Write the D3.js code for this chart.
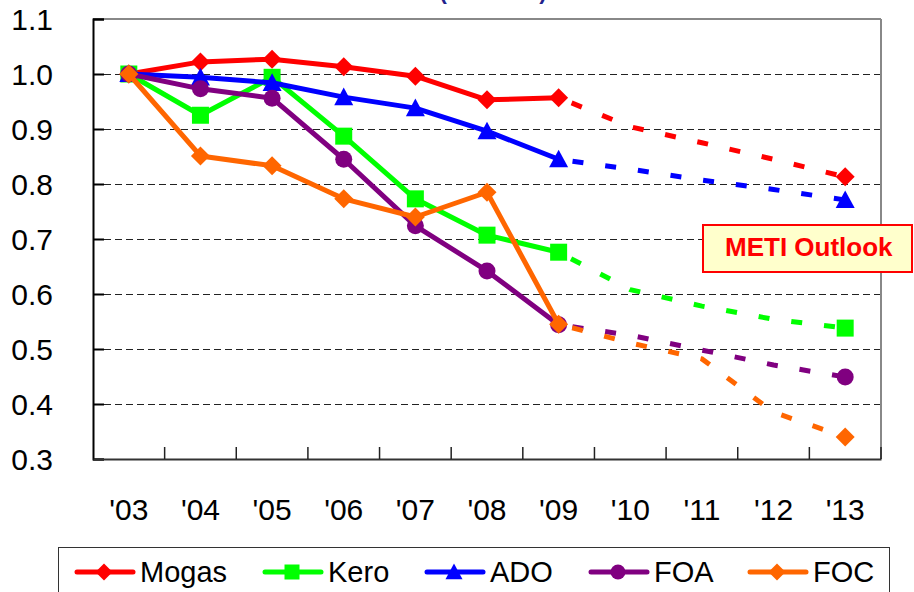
<!DOCTYPE html>
<html>
<head>
<meta charset="utf-8">
<script src="https://cdn.jsdelivr.net/npm/d3@7"></script>
<style>
  html, body { margin: 0; padding: 0; background: #fff; }
  svg { display: block; font-family: "Liberation Sans", Arial, sans-serif; }
</style>
</head>
<body>
<svg id="chart" width="914" height="592"></svg>
<script>
// ---- data ----
const categories = ["'03", "'04", "'05", "'06", "'07", "'08", "'09", "'10", "'11", "'12", "'13"];
const actualYears = ["'03", "'04", "'05", "'06", "'07", "'08", "'09"];
const outlookYears = ["'09", "'10", "'11", "'12", "'13"];
const seriesNames = ["Mogas", "Kero", "ADO", "FOA", "FOC"];
const mogasActual = [1.0, 1.022, 1.027, 1.013, 0.996, 0.953, 0.957];
const keroActual  = [1.0, 0.925, 0.994, 0.887, 0.773, 0.707, 0.676];
const adoActual   = [1.0, 0.994, 0.984, 0.958, 0.938, 0.896, 0.845];
const foaActual   = [1.0, 0.973, 0.956, 0.845, 0.724, 0.642, 0.544];
const focActual   = [1.0, 0.851, 0.833, 0.773, 0.740, 0.785, 0.545];
const mogasOutlook = [0.957, 0.904, 0.875, 0.845, 0.813];
const keroOutlook  = [0.676, 0.608, 0.578, 0.554, 0.538];
const adoOutlook   = [0.845, 0.827, 0.807, 0.790, 0.771];
const foaOutlook   = [0.544, 0.525, 0.498, 0.471, 0.449];
const focOutlook   = [0.545, 0.511, 0.482, 0.385, 0.340];
const yTicks = [0.3, 0.4, 0.5, 0.6, 0.7, 0.8, 0.9, 1.0, 1.1];
const titleText = "(2003=1.0)";
const noteText = "METI Outlook";

// ---- styles ----
const colors = ["#FF0000", "#00FF00", "#0000FF", "#800080", "#FF6600"];
const shapes = ["diamond", "square", "triangle", "circle", "diamond"];
const actual = [mogasActual, keroActual, adoActual, foaActual, focActual];
const outlook = [mogasOutlook, keroOutlook, adoOutlook, foaOutlook, focOutlook];

const svg = d3.select("#chart");
const L = 93, R = 881, T = 19, B = 459;

const x = d3.scaleBand().domain(categories).range([L, R]).padding(0);
const cx = c => x(c) + x.bandwidth() / 2;
const y = d3.scaleLinear().domain([0.3, 1.1]).range([B, T]);

function markerPath(shape, s) {
  if (shape === "diamond") return `M0,${-s}L${s},0L0,${s}L${-s},0Z`;
  if (shape === "square") return `M${-s},${-s}H${s}V${s}H${-s}Z`;
  if (shape === "triangle") return `M0,${-s}L${s},${s*0.85}L${-s},${s*0.85}Z`;
  return d3.arc()({innerRadius: 0, outerRadius: s, startAngle: 0, endAngle: 2 * Math.PI});
}
const markerSize = {diamond: 9.5, square: 8.5, triangle: 9.5, circle: 8.5};

// title (mostly above the visible area, as in the reference)
svg.append("text").attr("x", 493).attr("y", -1.5).attr("text-anchor", "middle")
  .attr("font-size", 22).attr("font-weight", "bold").attr("fill", "#22228C").text(titleText);

// gridlines
svg.append("g").selectAll("line").data(yTicks.filter(v => v > 0.35 && v < 1.05)).join("line")
  .attr("x1", L).attr("x2", R)
  .attr("y1", d => Math.round(y(d)) + 0.5).attr("y2", d => Math.round(y(d)) + 0.5)
  .attr("stroke", "#222").attr("stroke-width", 1).attr("stroke-dasharray", "7,4");

// frame
svg.append("line").attr("x1", L).attr("x2", R).attr("y1", T).attr("y2", T).attr("stroke", "#888").attr("stroke-width", 2);
svg.append("line").attr("x1", R).attr("x2", R).attr("y1", T).attr("y2", B).attr("stroke", "#888").attr("stroke-width", 2);

// y axis
const yAxis = d3.axisLeft(y).tickValues(yTicks).tickSize(-11).tickPadding(40).tickFormat(d3.format(".1f"));
const gy = svg.append("g").attr("transform", `translate(${L},0)`).call(yAxis);
gy.select(".domain").attr("stroke", "#000").attr("stroke-width", 2);
gy.selectAll(".tick line").attr("stroke", "#000").attr("stroke-width", 2);
gy.selectAll(".tick text").attr("font-size", 30).attr("fill", "#000")
  .attr("font-family", "'Liberation Sans', Arial, sans-serif").attr("dy", "0.36em");

// x axis
const xAxis = d3.axisBottom(x).tickSize(0).tickPadding(0);
const gx = svg.append("g").attr("transform", `translate(0,${B})`).call(xAxis);
gx.select(".domain").attr("stroke", "#333").attr("stroke-width", 2);
gx.selectAll(".tick text").attr("font-size", 30).attr("fill", "#000").attr("y", 61).attr("dy", 0)
  .attr("font-family", "'Liberation Sans', Arial, sans-serif");
// boundary tick marks (inside)
svg.append("g").selectAll("line").data(categories.slice(1).concat(["end"])).join("line")
  .attr("x1", d => d === "end" ? R : x(d)).attr("x2", d => d === "end" ? R : x(d))
  .attr("y1", B - 12).attr("y2", B).attr("stroke", "#222").attr("stroke-width", 1.5);

// series
const line = d3.line().x(d => cx(d.c)).y(d => y(d.v)).curve(d3.curveLinear);

seriesNames.forEach((name, i) => {
  const pts = actualYears.map((c, j) => ({c, v: actual[i][j]}));
  svg.append("path").attr("d", line(pts)).attr("fill", "none").attr("stroke", colors[i])
    .attr("stroke-width", 5).attr("stroke-linejoin", "round");
  svg.append("g").selectAll("path").data(pts).join("path")
    .attr("transform", d => `translate(${cx(d.c)},${y(d.v)})`)
    .attr("d", markerPath(shapes[i], markerSize[shapes[i]])).attr("fill", colors[i]);
});
seriesNames.forEach((name, i) => {
  const pts = outlookYears.map((c, j) => ({c, v: outlook[i][j]}));
  svg.append("path").attr("d", line(pts)).attr("fill", "none").attr("stroke", colors[i])
    .attr("stroke-width", 5).attr("stroke-dasharray", "11,22").attr("stroke-dashoffset", -14);
  const last = pts[pts.length - 1];
  svg.append("path").attr("transform", `translate(${cx(last.c)},${y(last.v)})`)
    .attr("d", markerPath(shapes[i], markerSize[shapes[i]])).attr("fill", colors[i]);
});

// METI Outlook note
svg.append("rect").attr("x", 703).attr("y", 225).attr("width", 209).attr("height", 47)
  .attr("fill", "#FFFFCC").attr("stroke", "#FF0000").attr("stroke-width", 2);
svg.append("text").attr("x", 725).attr("y", 256).attr("font-size", 26).attr("font-weight", "bold")
  .attr("fill", "#FF0000").text(noteText);

// legend
svg.append("rect").attr("x", 58.5).attr("y", 547.5).attr("width", 831).attr("height", 60)
  .attr("fill", "#fff").attr("stroke", "#333").attr("stroke-width", 1);
const legendX = [77, 265, 427, 591, 750];
const ly = 572;
seriesNames.forEach((name, i) => {
  const g = svg.append("g").attr("transform", `translate(${legendX[i]},${ly})`);
  g.append("line").attr("x1", 0).attr("x2", 56).attr("y1", 0).attr("y2", 0)
    .attr("stroke", colors[i]).attr("stroke-width", 5).attr("stroke-linecap", "round");
  g.append("path").attr("transform", "translate(27,0)")
    .attr("d", markerPath(shapes[i], markerSize[shapes[i]] - 1)).attr("fill", colors[i]);
  g.append("text").attr("x", 63).attr("y", 10).attr("font-size", 29).attr("fill", "#000").text(name);
});
</script>
</body>
</html>
